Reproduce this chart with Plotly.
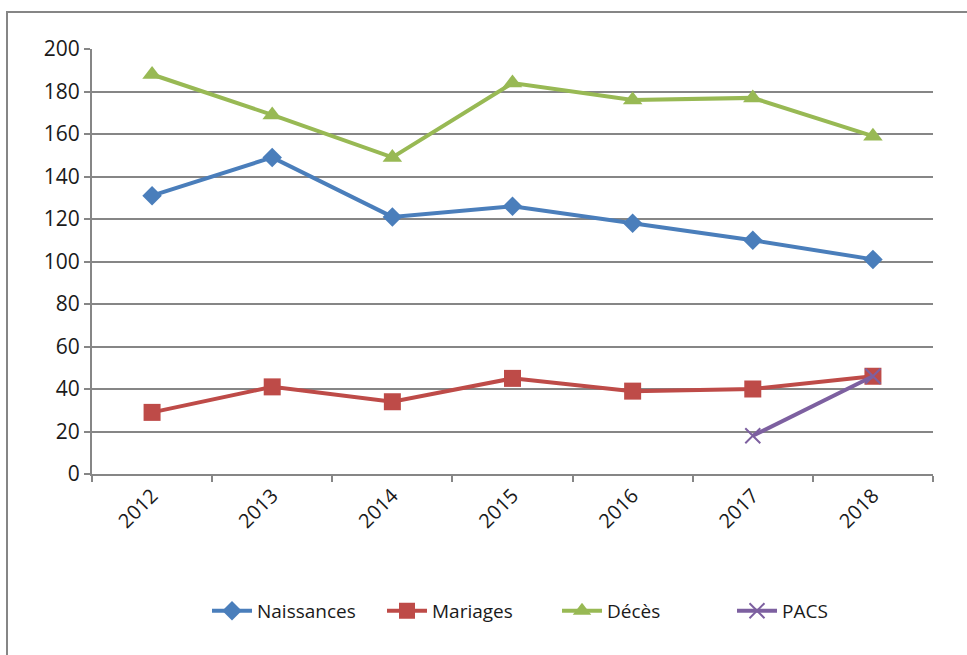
import plotly.graph_objects as go

years = ["2012", "2013", "2014", "2015", "2016", "2017", "2018"]
naissances = [131, 149, 121, 126, 118, 110, 101]
mariages = [29, 41, 34, 45, 39, 40, 46]
deces = [188, 169, 149, 184, 176, 177, 159]
pacs_years = ["2017", "2018"]
pacs = [18, 46]

FONT = "Open Sans"

fig = go.Figure()
fig.add_trace(go.Scatter(x=years, y=naissances, name="Naissances", mode="lines+markers",
                         line=dict(color="#4A7EBB", width=4),
                         marker=dict(symbol="diamond", size=15, color="#4A7EBB")))
fig.add_trace(go.Scatter(x=years, y=mariages, name="Mariages", mode="lines+markers",
                         line=dict(color="#BE4B48", width=4),
                         marker=dict(symbol="square", size=17, color="#BE4B48")))
fig.add_trace(go.Scatter(x=years, y=deces, name="Décès", mode="lines+markers",
                         line=dict(color="#98B954", width=4),
                         marker=dict(symbol="triangle-up", size=17, color="#98B954")))
fig.add_trace(go.Scatter(x=pacs_years, y=pacs, name="PACS", mode="lines+markers",
                         line=dict(color="#7D60A0", width=4),
                         marker=dict(symbol="x-thin", size=15, color="#7D60A0",
                                     line=dict(color="#7D60A0", width=2))))

fig.update_layout(
    width=967, height=655,
    margin=dict(l=92, r=34, t=49, b=181),
    paper_bgcolor="white", plot_bgcolor="white",
    font=dict(family=FONT, size=20, color="#1a1a1a"),
    showlegend=True,
    legend=dict(orientation="h", x=(207 - 92) / 841, xanchor="left", y=-0.322, yanchor="middle",
                font=dict(family=FONT, size=19, color="#1a1a1a"),
                itemwidth=40, traceorder="normal",
                entrywidthmode="pixels", entrywidth=120),
    xaxis=dict(type="category", showgrid=False, showline=True, linecolor="#868686", linewidth=2,
               ticks="outside", tickson="boundaries", ticklen=6, tickcolor="#868686", tickwidth=2,
               tickangle=-45, tickfont=dict(family=FONT, size=20, color="#1a1a1a"),
               range=[-0.5, 6.5], zeroline=False),
    yaxis=dict(range=[0, 200], dtick=20, showgrid=True, gridcolor="#868686", gridwidth=2,
               showline=True, linecolor="#868686", linewidth=2, ticks="outside", ticklen=6,
               tickcolor="#868686", tickwidth=2, zeroline=False,
               tickfont=dict(family=FONT, size=21, color="#1a1a1a")),
    shapes=[dict(type="rect", xref="paper", yref="paper",
                 x0=(7 - 92) / 841, x1=1.2, y0=-0.6, y1=1 + (49 - 12) / 425,
                 line=dict(color="#868686", width=2), fillcolor="rgba(0,0,0,0)", layer="below")],
)

fig.write_html("out.html")
